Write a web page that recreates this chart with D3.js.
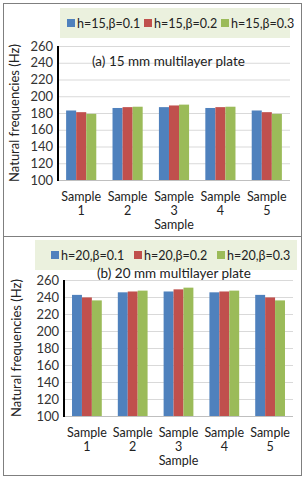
<!DOCTYPE html>
<html>
<head>
<meta charset="utf-8">
<script src="https://d3js.org/d3.v7.min.js"></script>
<style>
    body { margin: 0; background: #fff; }
    svg { font-family: Lato, "Open Sans", sans-serif; }
    .tick text { fill: #333; }
</style>
</head>
<body>
<svg width="305" height="480"></svg>
<script>
    // categories and ticks
    const samples = ["1", "2", "3", "4", "5"];
    const yTicks = [100, 120, 140, 160, 180, 200, 220, 240, 260];
    const colors = ["#4f81bd", "#c0504d", "#9bbb59"];

    // (a) 15 mm plate
    const names15 = ["h=15,β=0.1", "h=15,β=0.2", "h=15,β=0.3"];
    const f15_b01 = [183, 186, 187, 186, 183];
    const f15_b02 = [181, 187, 189, 187, 181];
    const f15_b03 = [179, 187.5, 190, 187.5, 179];

    // (b) 20 mm plate
    const names20 = ["h=20,β=0.1", "h=20,β=0.2", "h=20,β=0.3"];
    const f20_b01 = [242.5, 245.5, 246.5, 245.5, 242.5];
    const f20_b02 = [239.5, 246.5, 249, 246.5, 239.5];
    const f20_b03 = [236, 247.5, 251, 247.5, 236];

    const svg = d3.select("svg");

    // outer frame + divider
    svg.append("rect").attr("x", 3.5).attr("y", 3.5).attr("width", 298).attr("height", 472)
        .attr("fill", "none").attr("stroke", "#7f7f7f").attr("stroke-width", 1);
    svg.append("line").attr("x1", 3).attr("x2", 302).attr("y1", 236.5).attr("y2", 236.5)
        .attr("stroke", "#7f7f7f");

    function drawPanel(p) {
        const x = d3.scaleBand().domain(samples).range([p.left, p.right])
            .paddingInner(0.35).paddingOuter(0.175);
        const x1 = d3.scaleBand().domain([0, 1, 2]).range([0, x.bandwidth()]);
        const y = d3.scaleLinear().domain([100, 260]).range([p.bottom, p.top]);

        // legend box
        svg.append("rect").attr("x", p.legX).attr("y", p.legY).attr("width", p.legW).attr("height", 30)
            .attr("fill", "#ebf1de");
        p.names.forEach(function (n, i) {
            const lx = p.legX + p.legPad + i * p.legStep;
            svg.append("rect").attr("x", lx).attr("y", p.legY + 11).attr("width", 8).attr("height", 8)
                .attr("fill", colors[i]);
            svg.append("text").attr("x", lx + 10).attr("y", p.legY + 19.5)
                .attr("font-size", 12.5).attr("fill", "#222").text(n);
        });

        // gridlines
        svg.append("g").selectAll("line").data(yTicks.slice(1)).join("line")
            .attr("x1", p.left).attr("x2", p.right)
            .attr("y1", d => y(d) + 0.5).attr("y2", d => y(d) + 0.5)
            .attr("stroke", "#d9d9d9");

        // y axis
        const ya = svg.append("g").attr("transform", "translate(" + p.left + ",0)")
            .call(d3.axisLeft(y).tickValues(yTicks).tickSize(0).tickPadding(5));
        ya.select(".domain").remove();
        ya.selectAll("text").attr("font-size", 13).attr("font-family", "Lato, sans-serif");

        // bottom axis line
        svg.append("line").attr("x1", p.left).attr("x2", p.right)
            .attr("y1", p.bottom + 0.5).attr("y2", p.bottom + 0.5).attr("stroke", "#bfbfbf");

        // bars
        const data = samples.map((s, i) => ({ s: s, v: p.series.map(a => a[i]) }));
        svg.append("g").selectAll("g").data(data).join("g")
            .attr("transform", d => "translate(" + x(d.s) + ",0)")
            .selectAll("rect").data(d => d.v).join("rect")
            .attr("x", (d, i) => x1(i))
            .attr("width", x1.bandwidth())
            .attr("y", d => y(d))
            .attr("height", d => y(100) - y(d))
            .attr("fill", (d, i) => colors[i]);

        // left axis line (black)
        svg.append("line").attr("x1", p.left).attr("x2", p.left)
            .attr("y1", p.top).attr("y2", p.bottom + 1)
            .attr("stroke", "#000").attr("stroke-width", 2);

        // category labels
        const cl = svg.append("g").selectAll("text").data(samples).join("text")
            .attr("text-anchor", "middle").attr("font-size", 12.5).attr("fill", "#222");
        cl.append("tspan").attr("x", d => x(d) + x.bandwidth() / 2).attr("y", p.bottom + 21).text("Sample");
        cl.append("tspan").attr("x", d => x(d) + x.bandwidth() / 2).attr("y", p.bottom + 35).text(d => d);

        // axis titles
        svg.append("text").attr("x", (p.left + p.right) / 2).attr("y", p.bottom + 49)
            .attr("text-anchor", "middle").attr("font-size", 12.5).attr("fill", "#222").text("Sample");
        svg.append("text")
            .attr("transform", "translate(" + p.ytX + "," + ((p.top + p.bottom) / 2) + ") rotate(-90)")
            .attr("text-anchor", "middle").attr("font-size", 13).attr("fill", "#222")
            .text("Natural frequencies  (Hz)");

        // chart title
        svg.append("text").attr("x", p.titleX).attr("y", p.titleY)
            .attr("font-size", 13.5).attr("fill", "#222").text(p.title);
    }

    drawPanel({
        left: 58, right: 290, top: 46, bottom: 180,
        series: [f15_b01, f15_b02, f15_b03], names: names15,
        legX: 60, legY: 8, legW: 230, legPad: 7, legStep: 77,
        ytX: 19, title: "(a) 15 mm multilayer plate", titleX: 92, titleY: 66
    });

    drawPanel({
        left: 64, right: 293, top: 280, bottom: 416,
        series: [f20_b01, f20_b02, f20_b03], names: names20,
        legX: 35, legY: 240, legW: 262, legPad: 16, legStep: 83,
        ytX: 21, title: "(b) 20 mm multilayer plate", titleX: 97, titleY: 278
    });
</script>
</body>
</html>
